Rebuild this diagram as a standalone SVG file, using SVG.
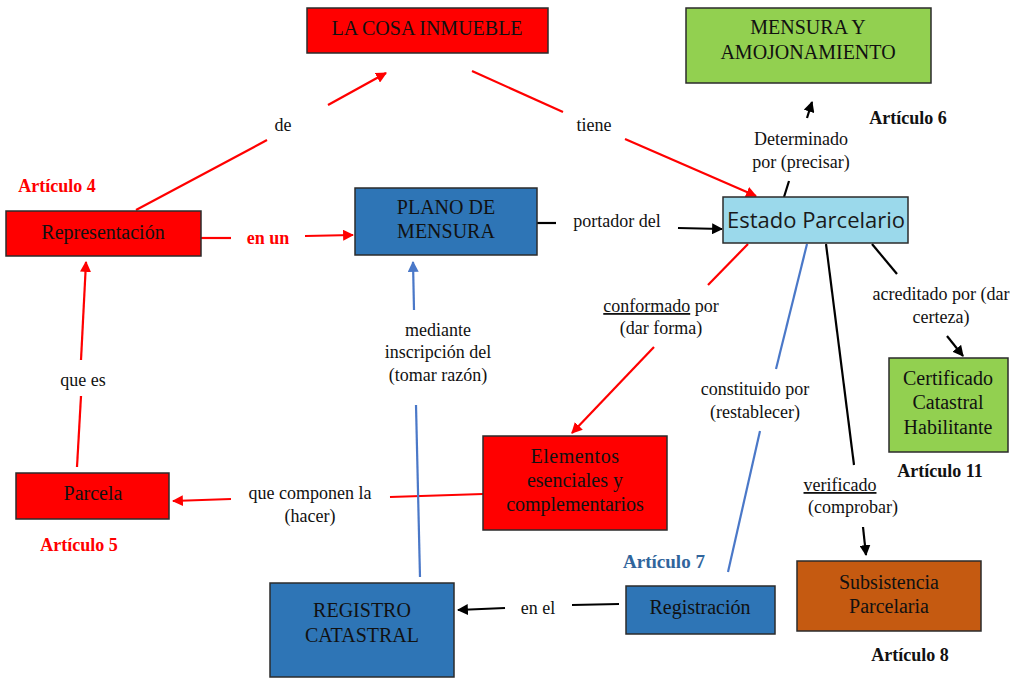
<svg xmlns="http://www.w3.org/2000/svg" width="1022" height="678" viewBox="0 0 1022 678">
<style>
.box{stroke:#2b2b2b;stroke-width:1.5}
.red{fill:#ff0000}.blue{fill:#2e75b6}.green{fill:#92d050}.lblue{fill:#9bd9eb}.orange{fill:#c55a11}
.t{font-size:18px;fill:#111;text-anchor:middle}
.n{font-size:20px}
.art{font-weight:bold;font-size:18px}
.lr{stroke:#ff0000;stroke-width:2.2;fill:none}
.lk{stroke:#000;stroke-width:2.2;fill:none}
.lb{stroke:#4a78c8;stroke-width:2.2;fill:none}
</style>
<defs>
<marker id="ar" viewBox="0 0 10 10" refX="9" refY="5" markerWidth="5" markerHeight="5" orient="auto" markerUnits="strokeWidth"><path d="M0,0 L10,5 L0,10 Z" fill="#ff0000"/></marker>
<marker id="ak" viewBox="0 0 10 10" refX="9" refY="5" markerWidth="5" markerHeight="5" orient="auto" markerUnits="strokeWidth"><path d="M0,0 L10,5 L0,10 Z" fill="#000"/></marker>
<marker id="ab" viewBox="0 0 10 10" refX="9" refY="5" markerWidth="5" markerHeight="5" orient="auto" markerUnits="strokeWidth"><path d="M0,0 L10,5 L0,10 Z" fill="#4a78c8"/></marker>
</defs>
<rect width="1022" height="678" fill="#fff"/>
<g id="connectors">
<path class="lr" d="M136,210 L267,140"/><path class="lr" d="M328,105 L386,73" marker-end="url(#ar)"/>
<path class="lr" d="M472,71 L563,112"/><path class="lr" d="M625,139 L756,196" marker-end="url(#ar)"/>
<path class="lr" d="M201,238 L231,238"/><path class="lr" d="M305,236 L353,235" marker-end="url(#ar)"/>
<path class="lk" d="M537,223 L556,223"/><path class="lk" d="M678,228 L722,229" marker-end="url(#ak)"/>
<path class="lk" d="M784,197 L789,181"/><path class="lk" d="M807,118 L812,102" marker-end="url(#ak)"/>
<path class="lr" d="M748,244 L708,285"/><path class="lr" d="M654,347 L572,433" marker-end="url(#ar)"/>
<path class="lb" d="M807,244 L776,369"/><path class="lb" d="M760,431 L728,572"/>
<path class="lk" d="M826,244 L854,465"/><path class="lk" d="M863,527 L866,555" marker-end="url(#ak)"/>
<path class="lk" d="M872,244 L897,274"/><path class="lk" d="M947,336 L963,356" marker-end="url(#ak)"/>
<path class="lr" d="M483,494 L390,497"/><path class="lr" d="M231,499 L173,501" marker-end="url(#ar)"/>
<path class="lr" d="M77,467 L81,396"/><path class="lr" d="M81,360 L86,262" marker-end="url(#ar)"/>
<path class="lb" d="M420,577 L416,405"/><path class="lb" d="M414,310 L413,262" marker-end="url(#ab)"/>
<path class="lk" d="M619,604 L572,605"/><path class="lk" d="M505,608 L458,610" marker-end="url(#ak)"/>
</g>
<g font-family="'Liberation Serif', 'DejaVu Serif', 'Noto Serif', serif">
<g id="labels">
<text class="t" x="283" y="131">de</text>
<text class="t" x="594" y="131">tiene</text>
<text class="t art" x="268" y="244" style="fill:#ff0000">en un</text>
<text class="t" x="617" y="227">portador del</text>
<text class="t" x="801" y="145">Determinado</text>
<text class="t" x="801" y="168">por (precisar)</text>
<text class="t" x="661" y="312"><tspan text-decoration="underline">conformado</tspan> por</text>
<text class="t" x="661" y="334">(dar forma)</text>
<text class="t" x="941" y="300">acreditado por (dar</text>
<text class="t" x="941" y="323">certeza)</text>
<text class="t" x="755" y="395">constituido por</text>
<text class="t" x="755" y="418">(restablecer)</text>
<text class="t" x="438" y="336">mediante</text>
<text class="t" x="438" y="358">inscripción del</text>
<text class="t" x="438" y="381">(tomar razón)</text>
<text class="t" x="83" y="386">que es</text>
<text class="t" x="310" y="499">que componen la</text>
<text class="t" x="310" y="522">(hacer)</text>
<text class="t" x="840" y="491" text-decoration="underline">verificado</text>
<text class="t" x="853" y="513">(comprobar)</text>
<text class="t" x="538" y="614">en el</text>
<text class="t art" x="57" y="192" style="fill:#ff0000">Artículo 4</text>
<text class="t art" x="79" y="551" style="fill:#ff0000">Artículo 5</text>
<text class="t art" x="908" y="124">Artículo 6</text>
<text class="t art" x="664" y="568" style="fill:#31659c;font-size:19px">Artículo 7</text>
<text class="t art" x="910" y="661">Artículo 8</text>
<text class="t art" x="940" y="477">Artículo 11</text>
</g>
<g id="n-cosa"><rect class="box red" x="307" y="8" width="241" height="45"/><text class="t n" x="427" y="35">LA COSA INMUEBLE</text></g>
<g id="n-mensura"><rect class="box green" x="686" y="8" width="245" height="75"/><text class="t n" x="808" y="34">MENSURA Y</text><text class="t n" x="808" y="59">AMOJONAMIENTO</text></g>
<g id="n-estado"><rect class="box lblue" x="723" y="197" width="185" height="46"/><text class="t" x="816" y="228" style="font-family:'Open Sans','Noto Sans',sans-serif;font-size:22px;fill:#1a1a1a">Estado Parcelario</text></g>
<g id="n-plano"><rect class="box blue" x="355" y="188" width="182" height="67"/><text class="t n" x="446" y="214">PLANO DE</text><text class="t n" x="446" y="238">MENSURA</text></g>
<g id="n-repr"><rect class="box red" x="6" y="211" width="195" height="45"/><text class="t n" x="103" y="239">Representación</text></g>
<g id="n-parcela"><rect class="box red" x="16" y="473" width="153" height="46"/><text class="t n" x="93" y="500">Parcela</text></g>
<g id="n-elementos"><rect class="box red" x="483" y="436" width="184" height="94"/><text class="t n" x="575" y="463" letter-spacing="0.5">Elementos</text><text class="t n" x="575" y="487">esenciales y</text><text class="t n" x="575" y="511">complementarios</text></g>
<g id="n-registro"><rect class="box blue" x="270" y="583" width="184" height="94"/><text class="t n" x="362" y="617">REGISTRO</text><text class="t n" x="362" y="642">CATASTRAL</text></g>
<g id="n-registracion"><rect class="box blue" x="626" y="586" width="149" height="48"/><text class="t n" x="700" y="614">Registración</text></g>
<g id="n-subsistencia"><rect class="box orange" x="797" y="561" width="184" height="70"/><text class="t n" x="889" y="589">Subsistencia</text><text class="t n" x="889" y="613">Parcelaria</text></g>
<g id="n-certificado"><rect class="box green" x="889" y="358" width="119" height="94"/><text class="t n" x="948" y="385">Certificado</text><text class="t n" x="948" y="409">Catastral</text><text class="t n" x="948" y="434">Habilitante</text></g>
</g>
</svg>
